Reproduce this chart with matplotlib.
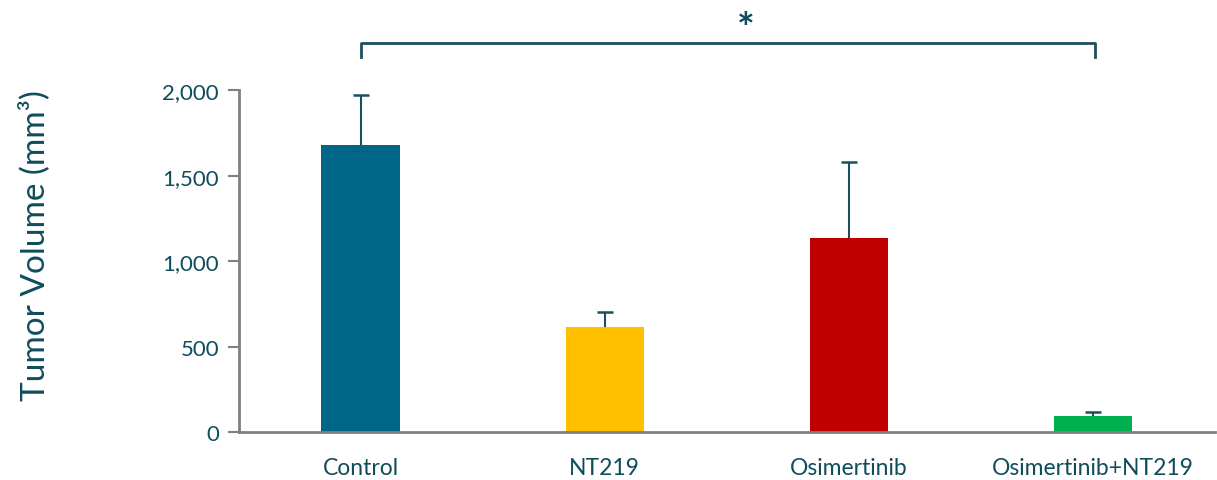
import numpy as np
from matplotlib import pyplot as plt

groups = ['Control', 'NT219', 'Osimertinib', 'Osimertinib+NT219']
volume = [1680, 612, 1133, 95]
volume_err = [295, 88, 447, 20]
bar_colors = ['#006688', '#FFC000', '#C00000', '#00B050']

plt.rcParams['font.family'] = ['Lato', 'DejaVu Sans']
text_color = '#0F4C5C'
spine_color = '#808080'
err_color = '#1B4F5E'

fig = plt.figure(figsize=(12.17, 4.81), dpi=100)
ax = fig.add_axes([0.196, 0.1, 0.802, 0.71])

x = np.arange(len(groups))
volume = np.array(volume)
volume_err = np.array(volume_err)
ax.bar(x, volume, width=0.32, color=bar_colors, zorder=2)
# upper error bars only: stem plus a cap on top
ax.errorbar(x, volume, yerr=[np.zeros(len(x)), volume_err], fmt='none',
            ecolor=err_color, elinewidth=1.5, capsize=0, zorder=1)
ax.plot(x, volume + volume_err, ls='none', marker='_', markersize=12,
        mew=1.8, color=err_color, zorder=1)

ax.set_xlim(-0.5, 3.5)
ax.set_ylim(0, 2000)
ax.set_yticks([0, 500, 1000, 1500, 2000])
ax.set_yticklabels(['0', '500', '1,000', '1,500', '2,000'])
ax.set_xticks(x)
ax.set_xticklabels(groups)
ax.tick_params(axis='y', colors=spine_color, labelcolor=text_color, labelsize=16,
               length=8, width=1.5, pad=6)
ax.tick_params(axis='x', length=0, labelcolor=text_color, labelsize=16.5, pad=18)

for side in ['top', 'right']:
    ax.spines[side].set_visible(False)
for side in ['left', 'bottom']:
    ax.spines[side].set_color(spine_color)
    ax.spines[side].set_linewidth(2)

ax.set_ylabel('Tumor Volume (mm³)', fontsize=24, color=text_color)
ax.yaxis.set_label_coords(-0.193, 0.55)

# significance bracket between Control and the combination
ax.plot([0, 0, 3.01, 3.01], [2195, 2275, 2275, 2195], color=err_color,
        lw=2, clip_on=False)
ax.text(1.58, 2245, '*', ha='center', va='bottom', fontsize=30,
        color=text_color, fontweight='bold')

fig.savefig('out.png', dpi=100)
